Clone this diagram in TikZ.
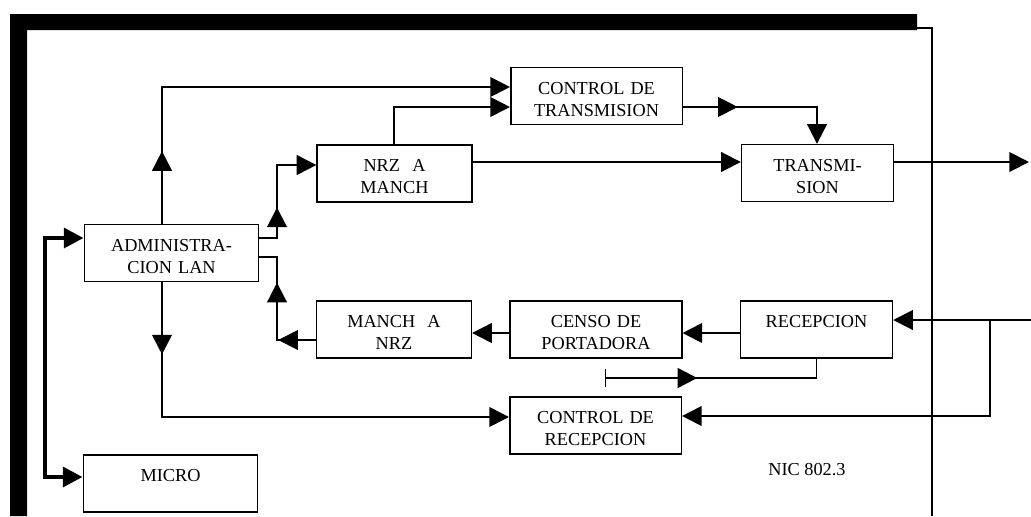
\documentclass[tikz,border=0pt]{standalone}
\usepackage{fontspec}
\setmainfont{Liberation Serif}
\usetikzlibrary{arrows.meta,decorations.markings}

\begin{document}
\begin{tikzpicture}[
    x=0.025cm, y=-0.025cm,
    box/.style={rectangle, draw=black, line width=1.1pt, fill=white,
                inner sep=0pt, text width=#1, minimum height=40.4pt,
                text height=19pt, text depth=21.4pt, align=center,
                font=\fontsize{13}{15.5}\selectfont},
    box/.default=122pt,
    line/.style={line width=1.4pt},
    arrow/.style={line, -{Triangle[length=14pt,width=14pt]}},
    midarrow/.style={postaction={decorate, decoration={markings,
                     mark=at position #1 with {\arrow{Triangle[length=14pt,width=14pt]}}}}},
    bus/.style={line width=3pt, {Triangle[length=14pt,width=14pt]}-{Triangle[length=14pt,width=14pt]}}
  ]
    \useasboundingbox (0,0) rectangle (1031,516);

    % frame
    \fill (10,14) -- (917,14) -- (917,30) -- (27,30) -- (27,516) -- (10,516) -- cycle;
    \draw[line width=0.8pt] (917,28) -- (932,28) -- (932,516);

    \node[box]        (ctx)   at (596.5,96)   {CONTROL DE\\TRANSMISION};
    \node[box=110pt]  (nrz)   at (394.5,173.5){NRZ~ A\\MANCH};
    \node[box=108pt]  (tx)    at (817.5,173)  {TRANSMI-\\SION};
    \node[box=124pt]  (adm)   at (171.5,253)  {ADMINISTRA-\\CION LAN};
    \node[box=110pt]  (m2n)   at (394,329.5)  {MANCH~ A\\NRZ};
    \node[box]        (cpo)   at (596,329.5)  {CENSO DE\\PORTADORA};
    \node[box=108pt]  (rec)   at (816.5,329.5){RECEPCION};
    \node[box]        (crx)   at (595.5,425.5){CONTROL DE\\RECEPCION};
    \node[box=124pt]  (micro) at (170.5,483.5){MICRO};
    \node[font=\fontsize{13}{15.5}\selectfont] (nic) at (807,470) {NIC 802.3};

    % corner points of the connectors
    \coordinate (adm-up)   at (162,87);
    \coordinate (nrz-up)   at (394,107);
    \coordinate (adm-out)  at (277,238);
    \coordinate (nrz-in)   at (317,165);
    \coordinate (nrz-tx)   at (500,162);
    \coordinate (ctx-turn) at (817,107);
    \coordinate (tx-out)   at (1029,162);
    \coordinate (rx-in)    at (1031,320);
    \coordinate (rx-tap)   at (990,320);
    \coordinate (crx-in)   at (682,416);
    \coordinate (rx-link)  at (600,333);
    \coordinate (m2n-ret)  at (277,340);
    \coordinate (adm-in)   at (259,257);
    \coordinate (tick)     at (605,378);
    \coordinate (adm-down) at (162,417);
    \coordinate (busT)     at (45,238);
    \coordinate (busB)     at (45,477);

    % transmit side
    \draw[arrow, midarrow=0.15] (adm.north -| adm-up) |- (ctx.west |- adm-up);
    \draw[arrow] (nrz.north -| nrz-up) |- (ctx.west |- nrz-up);
    \draw[arrow, midarrow=0.37] (adm.east |- adm-out) -- (adm-out) |- (nrz.west |- nrz-in);
    \draw[arrow] (nrz.east |- nrz-tx) -- (tx.west |- nrz-tx);
    \draw[arrow, midarrow=0.32] (ctx.east |- ctx-turn) -- (ctx-turn) -- (tx.north -| ctx-turn);
    \draw[arrow] (tx.east |- tx-out) -- (tx-out);

    % receive side
    \draw[arrow] (rx-in) -- (rec.east |- rx-in);
    \draw[arrow] (rx-tap) |- (crx.east |- crx-in);
    \draw[arrow] (rec.west |- rx-link) -- (cpo.east |- rx-link);
    \draw[arrow] (cpo.west |- rx-link) -- (m2n.east |- rx-link);
    \draw[line, midarrow=0.27, midarrow=0.69] (m2n.west |- m2n-ret) -- (m2n-ret) |- (adm.east |- adm-in);
    \draw[line, {Bar[width=13pt,line width=0.8pt]}-, midarrow=0.4] (tick) -| (rec.south);
    \draw[arrow, midarrow=0.15] (adm.south -| adm-down) |- (crx.west |- adm-down);

    % bus to micro
    \draw[bus] (adm.west |- busT) -- (busT) -- (busB) -- (micro.west |- busB);
\end{tikzpicture}
\end{document}
